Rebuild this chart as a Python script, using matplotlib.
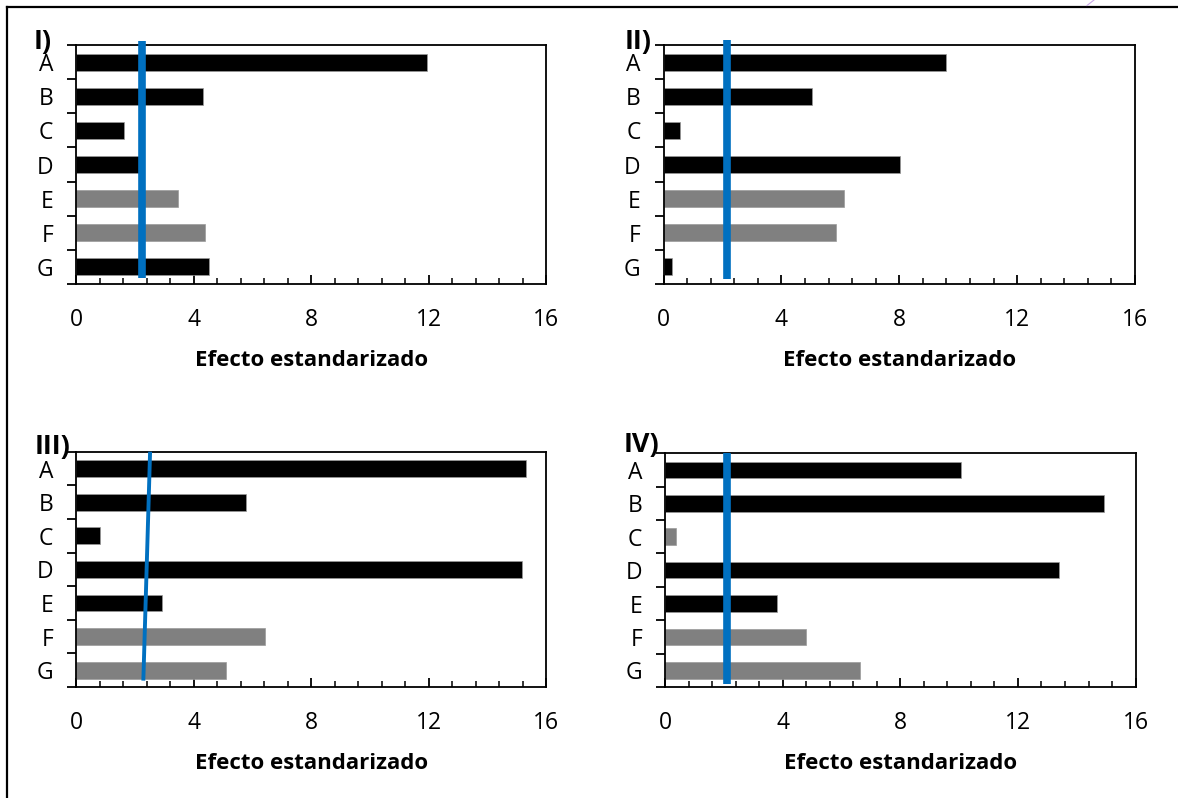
import matplotlib
matplotlib.use("Agg")
import matplotlib.pyplot as plt
from matplotlib.lines import Line2D
from matplotlib.ticker import MultipleLocator, FixedLocator, NullFormatter

plt.rcParams['font.family'] = ['Open Sans', 'DejaVu Sans']

categories = ['A', 'B', 'C', 'D', 'E', 'F', 'G']
panel_labels = ['I)', 'II)', 'III)', 'IV)']

vals_I = [11.95, 4.32, 1.64, 2.15, 3.47, 4.40, 4.53]
vals_II = [9.60, 5.05, 0.55, 8.04, 6.12, 5.84, 0.28]
vals_III = [15.31, 5.79, 0.82, 15.17, 2.93, 6.42, 5.10]
vals_IV = [10.07, 14.94, 0.37, 13.40, 3.80, 4.81, 6.63]

# 1 = significant (black), 0 = not significant (gray)
sig_I = [1, 1, 1, 1, 0, 0, 1]
sig_II = [1, 1, 1, 1, 0, 0, 1]
sig_III = [1, 1, 1, 1, 1, 0, 0]
sig_IV = [1, 1, 0, 1, 1, 0, 0]

# reference line (x at top, x at bottom)
ref_top = [2.25, 2.16, 2.52, 2.11]
ref_bottom = [2.25, 2.16, 2.29, 2.11]

xticks = [0, 4, 8, 12, 16]

W, H = 1178, 798
fig = plt.figure(figsize=(W / 100, H / 100), dpi=100)

# axes boxes in pixels: left, right, top, bottom
boxes = [(76, 546.4, 45, 284), (663.5, 1135, 45, 284),
         (76, 546.4, 451.7, 687), (665, 1135.6, 453.3, 687)]
line_y = [(-0.63, 6.31), (-0.65, 6.34), (-0.5, 6.31), (-0.5, 6.40)]
line_w = [5.5, 5.5, 2.8, 5.5]
label_pos = [(34, 48.5), (624.5, 49.5), (34.5, 453.5), (624, 452)]

data = [(vals_I, sig_I), (vals_II, sig_II), (vals_III, sig_III), (vals_IV, sig_IV)]
BLACK = '#000000'
GRAY = '#808080'
BLUE = '#0070C0'

for i, ((vals, sig), box) in enumerate(zip(data, boxes)):
    l, r, t, b = box
    ax = fig.add_axes([l / W, 1 - b / H, (r - l) / W, (b - t) / H])
    ypos = list(range(len(categories)))
    colors = [BLACK if s else GRAY for s in sig]
    ax.barh(ypos, vals, height=0.5, color=colors, edgecolor='#9a9a9a', linewidth=0.5, zorder=2)
    ax.plot([ref_top[i], ref_bottom[i]], list(line_y[i]), color=BLUE,
            linewidth=line_w[i], solid_capstyle='butt', clip_on=False, zorder=3)
    ax.set_xlim(0, 16)
    ax.set_ylim(len(categories) - 0.5, -0.5)
    ax.xaxis.set_major_locator(FixedLocator(xticks))
    ax.xaxis.set_minor_locator(MultipleLocator(0.8))
    ax.set_xticklabels([str(x) for x in xticks], fontsize=16.5)
    ax.tick_params(axis='x', which='major', direction='in', length=6.3, width=1.3, pad=17.5)
    ax.tick_params(axis='x', which='minor', direction='in', length=4.5, width=1.1)
    ax.yaxis.set_major_locator(FixedLocator([k - 0.5 for k in range(len(categories) + 1)]))
    ax.yaxis.set_major_formatter(NullFormatter())
    ax.yaxis.set_minor_locator(FixedLocator(ypos))
    ax.set_yticklabels(categories, minor=True, fontsize=16.5)
    ax.tick_params(axis='y', which='major', direction='out', length=6.2, width=1.3)
    ax.tick_params(axis='y', which='minor', length=0, pad=16.5)
    for s in ax.spines.values():
        s.set_linewidth(1.3)
    ax.set_xlabel('Efecto estandarizado', fontsize=16, fontweight='bold', labelpad=13)
    lx, ly = label_pos[i]
    fig.text(lx / W, 1 - ly / H, panel_labels[i], fontsize=19.5, fontweight='bold',
             ha='left', va='baseline')

# outer frame (top and left) and small mark
fig.add_artist(Line2D([6.8 / W, 1.0], [1 - 6.7 / H, 1 - 6.7 / H], color='black', linewidth=1.6,
                      transform=fig.transFigure))
fig.add_artist(Line2D([6.8 / W, 6.8 / W], [0, 1 - 6.7 / H], color='black', linewidth=1.6,
                      transform=fig.transFigure))
fig.add_artist(Line2D([1087 / W, 1094 / W], [1 - 5.5 / H, 1.0], color='#c9a6e6', linewidth=0.8,
                      transform=fig.transFigure))

fig.savefig('out.png', dpi=100)
